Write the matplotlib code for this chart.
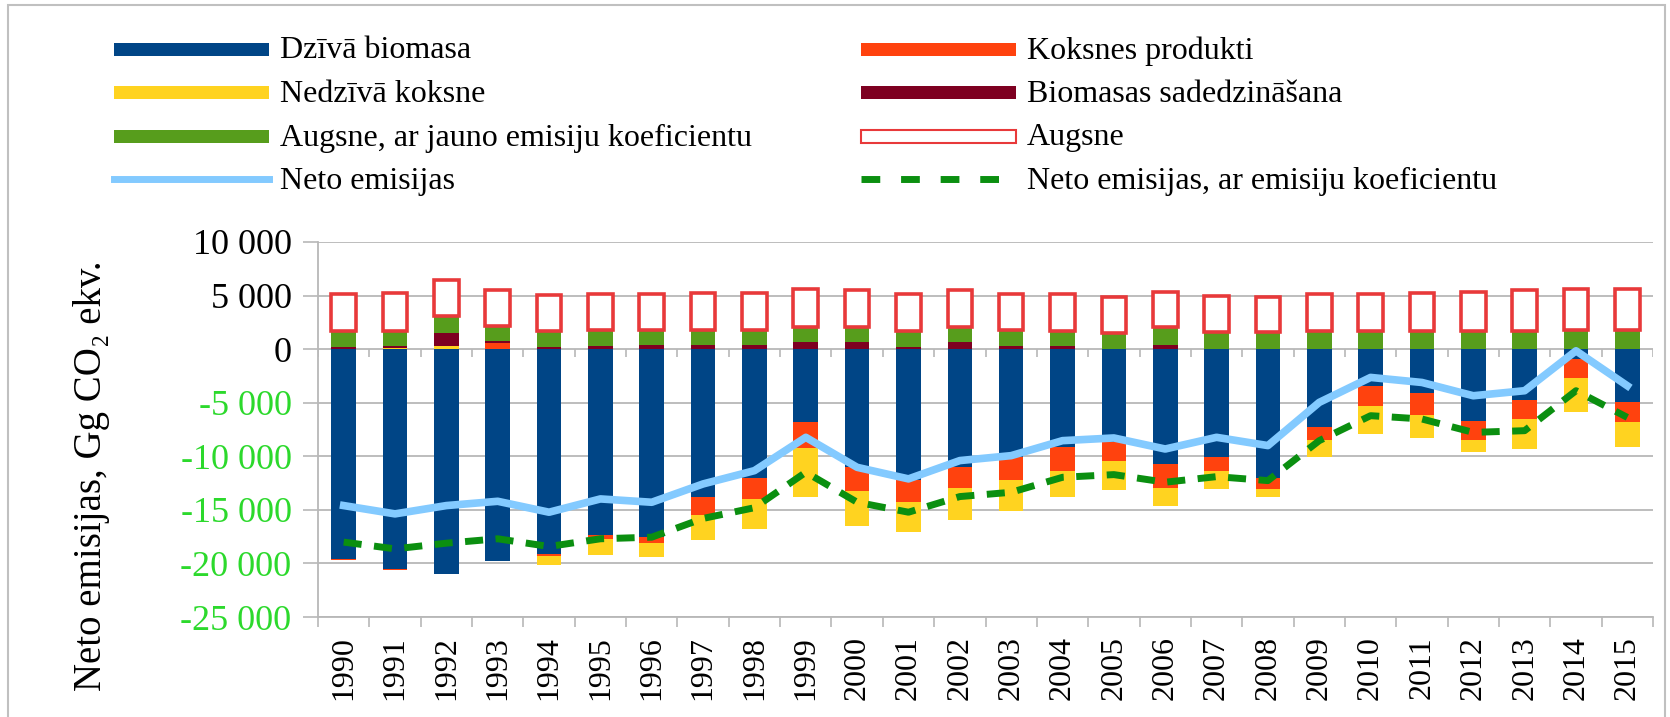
import matplotlib
matplotlib.use("Agg")
import matplotlib.pyplot as plt
from matplotlib.patches import Rectangle
from matplotlib.lines import Line2D
import numpy as np

plt.rcParams['font.family'] = ['Liberation Serif', 'DejaVu Serif']

# data (Gg CO2 ekv.)
years = [str(y) for y in range(1990, 2016)]

dziva_biomasa = [-19570, -20500, -20965, -19785, -19160, -17300, -17500, -13820, -12050, -6830,
                 -11030, -12200, -10960, -10100, -9160, -8700, -10720, -10100, -12050, -7240,
                 -3420, -4130, -6680, -4750, -930, -4970]
koksnes_produkti = [-100, -100, 0, 530, -120, -400, -620, -1615, -1925, -2390,
                    -2170, -2080, -1990, -2100, -2240, -1710, -2240, -1300, -990, -1240,
                    -1860, -1990, -1800, -1770, -1770, -1860]
nedziva_koksne = [0, 150, 310, 0, -900, -1550, -1300, -2360, -2800, -4600,
                  -3260, -2800, -2980, -2950, -2360, -2730, -1650, -1650, -780, -1550,
                  -2640, -2170, -1090, -2800, -3200, -2270]
biomasas_sadedz = [200, 150, 1210, 250, 200, 280, 340, 340, 370, 700,
                   620, 220, 620, 280, 280, 0, 430, 0, 0, 0,
                   0, 0, 0, 0, 0, 0]
augsne_jauna = [1508, 1408, 1586, 1395, 1508, 1490, 1460, 1460, 1430, 1380,
                1460, 1490, 1460, 1490, 1430, 1550, 1650, 1615, 1615, 1708,
                1708, 1708, 1708, 1708, 1770, 1770]
augsne = [3480, 3570, 3324, 3325, 3350, 3420, 3390, 3480, 3480, 3570,
          3420, 3480, 3420, 3420, 3417, 3330, 3290, 3355, 3265, 3417,
          3480, 3570, 3660, 3790, 3820, 3820]
neto = [-14600, -15375, -14600, -14200, -15220, -13980, -14290, -12580, -11340, -8230,
        -11030, -12110, -10400, -9940, -8540, -8290, -9320, -8230, -9000, -4970,
        -2640, -3110, -4350, -3880, -155, -3420]
neto_koef = [-18010, -18640, -18110, -17700, -18420, -17700, -17550, -15800, -14800, -11490,
             -14290, -15220, -13760, -13360, -11960, -11710, -12420, -11900, -12270, -8540,
             -6210, -6520, -7770, -7610, -3880, -6370]

C_BLUE = '#004586'
C_ORANGE = '#ff420e'
C_YELLOW = '#ffd320'
C_DARKRED = '#7e0021'
C_GREEN = '#579d1c'
C_BOXRED = '#e8393a'
C_LINE = '#83caff'
C_DASH = '#0b8f10'
C_GRID = '#b8b8b8'
C_NEG = '#2cd92c'

W, H = 1670, 717
fig = plt.figure(figsize=(W / 100, H / 100), dpi=100)
ax = fig.add_axes([318 / W, 1 - 617 / H, (1653 - 318) / W, (617 - 242) / H])

x = np.arange(len(years))
bw = 0.48

# stacked like the spreadsheet: positive and negative parts stack separately
pos = np.zeros(len(years))
neg = np.zeros(len(years))
stack = [(dziva_biomasa, C_BLUE), (koksnes_produkti, C_ORANGE), (nedziva_koksne, C_YELLOW),
         (biomasas_sadedz, C_DARKRED), (augsne_jauna, C_GREEN)]
for vals, col in stack:
    v = np.array(vals, dtype=float)
    p = np.where(v > 0, v, 0)
    n = np.where(v < 0, v, 0)
    ax.bar(x, p, bw, bottom=pos, color=col, zorder=3, linewidth=0)
    ax.bar(x, n, bw, bottom=neg, color=col, zorder=3, linewidth=0)
    pos += p
    neg += n
ax.bar(x, augsne, bw, bottom=pos, facecolor='white', edgecolor=C_BOXRED, linewidth=2.6, zorder=3)

ax.plot(x, neto, color=C_LINE, lw=5.5, zorder=5, solid_joinstyle='round')
ax.plot(x, neto_koef, color=C_DASH, lw=5, zorder=5, linestyle=(0, (2.6, 1.8)))

ax.set_xlim(-0.5, len(years) - 0.5)
ax.set_ylim(-25000, 10000)
yt = np.arange(-25000, 10001, 5000)
ax.set_yticks(yt)
ax.set_yticklabels([f"{v:,}".replace(",", " ") for v in yt], fontsize=26)
for lab, v in zip(ax.get_yticklabels(), yt):
    lab.set_color(C_NEG if v < 0 else 'black')
ax.tick_params(axis='y', length=11, width=1.2, color=C_GRID, pad=8)

ax.set_xticks(x)
ax.set_xticklabels(years, rotation=90, fontsize=23)
ax.set_xticks(np.arange(-0.5, len(years)), minor=True)
ax.tick_params(axis='x', which='major', length=0, pad=14)
ax.tick_params(axis='x', which='minor', length=7, width=1.2, color=C_GRID)

ax.grid(axis='y', color=C_GRID, lw=1.3, zorder=0)
ax.set_axisbelow(True)
for s in ['top', 'right']:
    ax.spines[s].set_visible(False)
for s in ['left', 'bottom']:
    ax.spines[s].set_color(C_GRID)
    ax.spines[s].set_linewidth(1.3)
# short ticks on the zero line between categories
ax.vlines(np.arange(-0.5, len(years)), -750, 0, color=C_GRID, lw=1.2, zorder=1)

fig.text(92 / W, 1 - 476 / H, 'Neto emisijas, Gg CO₂ ekv.', rotation=90,
         ha='center', va='center', fontsize=28)

# legend, laid out like the spreadsheet one
entries = [('Dzīvā biomasa', 'patch', C_BLUE),
           ('Koksnes produkti', 'patch', C_ORANGE),
           ('Nedzīvā koksne', 'patch', C_YELLOW),
           ('Biomasas sadedzināšana', 'patch', C_DARKRED),
           ('Augsne, ar jauno emisiju koeficientu', 'patch', C_GREEN),
           ('Augsne', 'box', C_BOXRED),
           ('Neto emisijas', 'line', C_LINE),
           ('Neto emisijas, ar emisiju koeficientu', 'dash', C_DASH)]
col_x = [114, 861]
row_y = [49, 92, 136, 179]
hl = 155
for i, (label, kind, col) in enumerate(entries):
    x0 = col_x[i % 2]
    yc = row_y[i // 2]
    fx0, fx1 = x0 / W, (x0 + hl) / W
    fy = 1 - yc / H
    if kind == 'patch':
        fig.add_artist(Rectangle((fx0, 1 - (yc + 6.5) / H), hl / W, 13 / H,
                                 facecolor=col, edgecolor='none', transform=fig.transFigure))
    elif kind == 'box':
        fig.add_artist(Rectangle((fx0, 1 - (yc + 6.5) / H), hl / W, 13 / H,
                                 facecolor='white', edgecolor=col, lw=1.5, transform=fig.transFigure))
    elif kind == 'line':
        fig.add_artist(Line2D([fx0, fx1], [fy, fy], color=col, lw=5, transform=fig.transFigure))
    else:
        fig.add_artist(Line2D([fx0, fx1], [fy, fy], color=col, lw=5,
                              linestyle=(0, (2.7, 3.0)), transform=fig.transFigure))
    fig.text((x0 + hl + 11) / W, fy - 2 / H, label, ha='left', va='center', fontsize=23)

# light frame around the picture
fig.add_artist(Rectangle((8 / W, -0.05), (1665 - 8) / W, 1.05 - 5 / H, fill=False,
                         edgecolor='#c0c0c0', lw=1.5, transform=fig.transFigure))

fig.savefig('out.png', dpi=100)
